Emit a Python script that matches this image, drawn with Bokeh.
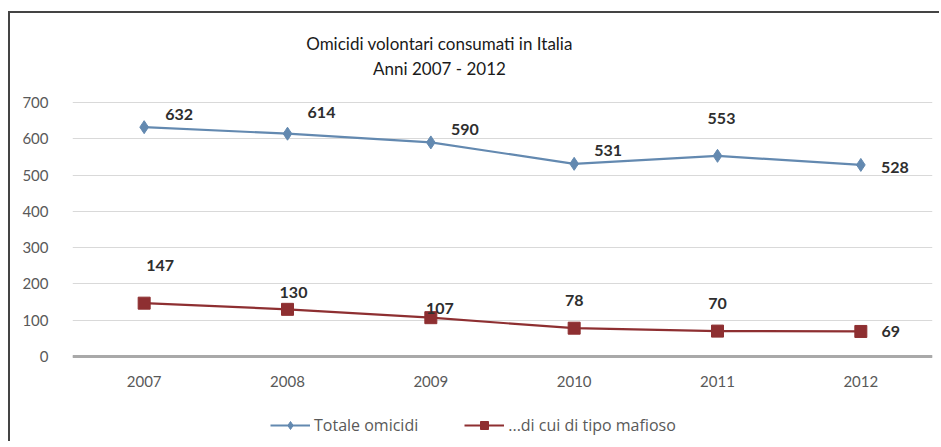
from bokeh.plotting import figure
from bokeh.models import Range1d, FactorRange, Label, Legend, LegendItem, ColumnDataSource, FixedTicker
from bokeh.core.properties import value
from bokeh.embed import file_html
from bokeh.resources import INLINE

years = ["2007", "2008", "2009", "2010", "2011", "2012"]
totale = [632, 614, 590, 531, 553, 528]
mafioso = [147, 130, 107, 78, 70, 69]
y_ticks = [0, 100, 200, 300, 400, 500, 600, 700]

# label offsets (screen px) for the value labels
tot_dx = [35, 34, 34, 34, 4, 34]
tot_dy = [-13, -21, -13, -13, -37, 3]
maf_dx = [16, 6, 9, 0, 0, 30]
maf_dy = [-38, -17, -9, -28, -28, 0]

FONT = "Lato"
BLUE = "#6389b0"
RED = "#8e2f31"

# layout (pixels): frame spans the whole height; value axis 0..700 occupies page y 356..102
FIG_W, FIG_H = 931, 430
Y0_PX, Y700_PX = 343, 89          # within figure (figure top is page y=13)
ppu = (Y0_PX - Y700_PX) / 700.0
y_lo = -(FIG_H - Y0_PX) / ppu
y_hi = 700 + Y700_PX / ppu

src_t = ColumnDataSource(dict(x=years, y=totale, t=[str(v) for v in totale], dx=tot_dx, dy=tot_dy))
src_m = ColumnDataSource(dict(x=years, y=mafioso, t=[str(v) for v in mafioso], dx=maf_dx, dy=maf_dy))

p = figure(width=FIG_W, height=FIG_H,
           x_range=FactorRange(factors=years, range_padding=0),
           y_range=Range1d(y_lo, y_hi),
           output_backend="svg", toolbar_location=None, title=None,
           min_border_left=62, min_border_top=0, min_border_right=9, min_border_bottom=0)
p.styles = {"margin-left": "8px", "margin-top": "11px",
            "border-left": "2px solid #444", "border-top": "2px solid #444",
            "border-right": "0px none", "border-bottom": "0px none"}
p.outline_line_color = None
p.background_fill_color = "white"
p.border_fill_color = "white"

p.xgrid.grid_line_color = None
p.ygrid.grid_line_color = "#d9d9d9"
p.yaxis.ticker = FixedTicker(ticks=y_ticks)
p.yaxis.axis_line_color = None
p.yaxis.major_tick_line_color = None
p.yaxis.minor_tick_line_color = None
p.yaxis.major_label_standoff = 18
p.xaxis.fixed_location = 0
p.xaxis.axis_line_color = "#a9a9a9"
p.xaxis.axis_line_width = 3
p.xaxis.major_tick_line_color = None
p.xaxis.major_label_standoff = 13
for ax in (p.xaxis, p.yaxis):
    ax.major_label_text_font = FONT
    ax.major_label_text_font_size = "15px"
    ax.major_label_text_color = "#595959"

l1 = p.line("x", "y", source=src_t, line_color=BLUE, line_width=2.2)
s1 = p.scatter("x", "y", source=src_t, marker="diamond", size=13, fill_color=BLUE, line_color=BLUE)
l2 = p.line("x", "y", source=src_m, line_color=RED, line_width=2.2)
s2 = p.scatter("x", "y", source=src_m, marker="square", size=12, fill_color=RED, line_color=RED)

for src in (src_t, src_m):
    p.text("x", "y", text="t", source=src, x_offset="dx", y_offset="dy",
           text_font=value(FONT), text_font_size="16px", text_font_style="bold",
           text_color="#2e2e2e", text_align="center", text_baseline="middle")

p.add_layout(Label(x=367, y=FIG_H - 30, x_units="screen", y_units="screen",
                   text="Omicidi volontari consumati in Italia", text_align="center",
                   text_baseline="middle", text_font=FONT, text_font_size="17px",
                   text_color="#1a1a1a"))
p.add_layout(Label(x=367, y=FIG_H - 55, x_units="screen", y_units="screen",
                   text="Anni 2007 - 2012", text_align="center",
                   text_baseline="middle", text_font=FONT, text_font_size="17px",
                   text_color="#1a1a1a"))

legend = Legend(items=[LegendItem(label="Totale omicidi", renderers=[l1, s1]),
                       LegendItem(label="...di cui di tipo mafioso", renderers=[l2, s2])],
                location=(198, FIG_H - 423), orientation="horizontal",
                glyph_width=40, glyph_height=20, label_standoff=4, spacing=46,
                padding=0, margin=0, border_line_color=None, background_fill_alpha=0,
                label_text_font="Open Sans", label_text_font_size="16px",
                label_text_color="#595959")
p.add_layout(legend, "center")

open("out.html", "w").write(file_html(p, INLINE))
